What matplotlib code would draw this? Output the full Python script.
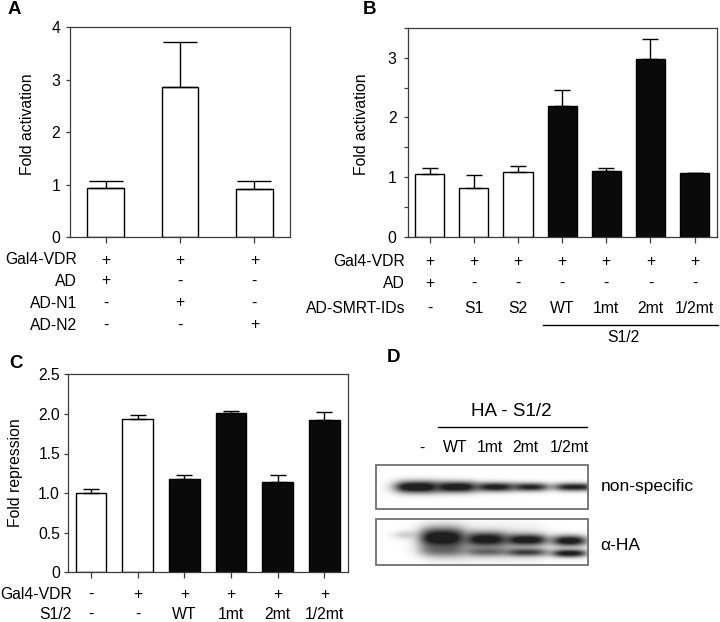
import numpy as np
import matplotlib
matplotlib.use("Agg")
import matplotlib.pyplot as plt
from matplotlib.transforms import blended_transform_factory as blend
from matplotlib.patches import Rectangle

plt.rcParams['font.family'] = ['Liberation Sans', 'DejaVu Sans']

# ---------------- data ----------------
# Panel A
a_values = [0.94, 2.85, 0.91]
a_err_up = [0.13, 0.86, 0.16]
a_row_names = ['Gal4-VDR', 'AD', 'AD-N1', 'AD-N2']
a_gal4 = ['+', '+', '+']
a_ad = ['+', '-', '-']
a_adn1 = ['-', '+', '-']
a_adn2 = ['-', '-', '+']

# Panel B
b_values = [1.045, 0.82, 1.084, 2.20, 1.106, 2.98, 1.06]
b_err_up = [0.11, 0.21, 0.11, 0.26, 0.05, 0.33, 0.01]
b_filled = [False, False, False, True, True, True, True]
b_row_names = ['Gal4-VDR', 'AD', 'AD-SMRT-IDs']
b_gal4 = ['+'] * 7
b_ad = ['+', '-', '-', '-', '-', '-', '-']
b_ids = ['-', 'S1', 'S2', 'WT', '1mt', '2mt', '1/2mt']
b_group_label = 'S1/2'

# Panel C
c_values = [1.0, 1.94, 1.183, 2.01, 1.136, 1.923]
c_err_up = [0.055, 0.04, 0.04, 0.03, 0.09, 0.105]
c_filled = [False, False, True, True, True, True]
c_row_names = ['Gal4-VDR', 'S1/2']
c_gal4 = ['-', '+', '+', '+', '+', '+']
c_s12 = ['-', '-', 'WT', '1mt', '2mt', '1/2mt']

# Panel D (western blot, relative band intensities per lane)
d_lanes = ['-', 'WT', '1mt', '2mt', '1/2mt']
d_nonspecific = [1.0, 0.97, 0.9, 0.85, 0.85]
d_ha_upper = [0.25, 1.0, 0.97, 0.97, 0.97]
d_ha_lower = [0.0, 0.4, 0.5, 0.7, 0.95]

# ---------------- layout ----------------
W, H = 720, 622
fig = plt.figure(figsize=(W / 100, H / 100), dpi=100)
FS = 11.3
SP = '#3c3c3c'


def px_axes(l, t, r, b):
    return fig.add_axes([l / W, 1 - b / H, (r - l) / W, (b - t) / H])


ov = fig.add_axes([0, 0, 1, 1], zorder=5)
ov.set_xlim(0, W)
ov.set_ylim(H, 0)
ov.axis('off')
ov.patch.set_alpha(0)


def style(ax, pad):
    for s in ax.spines.values():
        s.set_color(SP)
        s.set_linewidth(0.9)
    ax.tick_params(direction='out', length=3, width=0.9, color=SP,
                   labelsize=FS, pad=pad)
    ax.tick_params(axis='x', length=4, labelbottom=False)


def bars(ax, vals, errs, filled, width, capsize):
    x = np.arange(len(vals))
    cols = ['#0a0a0a' if f else 'white' for f in filled]
    ax.bar(x, vals, width, color=cols, edgecolor='black', linewidth=1.0, zorder=2)
    ax.errorbar(x, vals, yerr=[np.zeros(len(vals)), errs], fmt='none',
                ecolor='black', elinewidth=1.0, capsize=capsize, capthick=1.0, zorder=3)
    ax.set_xticks(x)
    return x


def rows(ax, names, rowvals, ys, right_x):
    tr = blend(ax.transData, ov.transData)
    for name, vals, y in zip(names, rowvals, ys):
        ov.text(right_x, y, name, ha='right', va='center', fontsize=FS)
        for i, v in enumerate(vals):
            ov.text(i, y, v, ha='center', va='center', fontsize=FS, transform=tr)


# ---- Panel A ----
axA = px_axes(70, 27, 290, 237.3)
style(axA, 4)
bars(axA, a_values, a_err_up, [False] * 3, 0.49, 12)
axA.set_xlim(-0.48, 2.48)
axA.set_ylim(0, 4)
axA.set_yticks([0, 1, 2, 3, 4])
rows(axA, a_row_names, [a_gal4, a_ad, a_adn1, a_adn2], [260, 281, 303, 325], 77)
ov.text(28, 124, 'Fold activation', rotation=90, ha='center', va='center', fontsize=FS)
ov.text(14, 9, 'A', ha='center', va='center', fontsize=13.5, fontweight='bold')

# ---- Panel B ----
axB = px_axes(407.5, 28, 716.7, 236.7)
style(axB, 5)
bars(axB, b_values, b_err_up, b_filled, 0.66, 5.8)
axB.set_xlim(-0.5, 6.5)
axB.set_ylim(0, 3.5)
axB.set_yticks(np.arange(0, 3.51, 0.5))
axB.set_yticklabels(['0', '', '1', '', '2', '', '3', ''])
rows(axB, b_row_names, [b_gal4, b_ad, b_ids], [261.7, 283.3, 308.3], 405)
ov.plot([542.7, 718], [325, 325], color='black', lw=1.0)
ov.text(623, 338, b_group_label, ha='center', va='center', fontsize=FS)
ov.text(361, 124, 'Fold activation', rotation=90, ha='center', va='center', fontsize=FS)
ov.text(370, 9, 'B', ha='center', va='center', fontsize=13.5, fontweight='bold')

# ---- Panel C ----
axC = px_axes(67.7, 374.3, 347.7, 572.3)
style(axC, 2.5)
bars(axC, c_values, c_err_up, c_filled, 0.66, 6)
axC.set_xlim(-0.5, 5.5)
axC.set_ylim(0, 2.5)
axC.set_yticks(np.arange(0, 2.51, 0.5))
axC.set_yticklabels(['0', '0.5', '1.0', '1.5', '2.0', '2.5'])
rows(axC, c_row_names, [c_gal4, c_s12], [594.3, 614.5], 72)
ov.text(16, 473, 'Fold repression', rotation=90, ha='center', va='center', fontsize=FS)
ov.text(16, 363, 'C', ha='center', va='center', fontsize=13.5, fontweight='bold')

# ---- Panel D ----
ov.text(393, 358, 'D', ha='center', va='center', fontsize=13.5, fontweight='bold')
ov.text(511, 411, 'HA - S1/2', ha='center', va='center', fontsize=13.5)
ov.plot([438.3, 586.7], [426.7, 426.7], color='black', lw=1.0)
lane_label_x = [421.7, 455, 490, 525.7, 569]
for lx, lab in zip(lane_label_x, d_lanes):
    ov.text(lx, 448, lab, ha='center', va='center', fontsize=FS)
ov.text(600.7, 487, 'non-specific', ha='left', va='center', fontsize=12.5)
ov.text(600.7, 545, 'α-HA', ha='left', va='center', fontsize=12.5)


def plateau(x, c, w, edge):
    return 1 / (1 + np.exp(-(x - (c - w / 2)) / edge)) / (1 + np.exp((x - (c + w / 2)) / edge))


def blot(x0, x1, y0, y1, bands, smear=None):
    xs = np.linspace(x0, x1, int((x1 - x0) * 2))
    ys = np.linspace(y0, y1, int((y1 - y0) * 2))
    X, Y = np.meshgrid(xs, ys)
    keep = np.ones_like(X)
    for (cx, w, cy, sy, inten) in bands:
        if inten <= 0:
            continue
        d = inten * plateau(X, cx, w, 4.5) * np.exp(-((Y - cy) / sy) ** 2)
        keep *= (1 - np.clip(1.25 * d, 0, 0.97))
    if smear is not None:
        for (cx, w, cy, sy, inten) in smear:
            d = inten * plateau(X, cx, w, 6.0) * np.exp(-((Y - cy) / sy) ** 2)
            keep *= (1 - d)
    img = 0.1 + 0.9 * keep
    ov.imshow(img, cmap='gray', vmin=0, vmax=1, extent=[x0, x1, y1, y0],
              aspect='auto', interpolation='bilinear', zorder=1)
    ov.add_patch(Rectangle((x0, y0), x1 - x0, y1 - y0, fill=False,
                           edgecolor='#707070', lw=1.3, zorder=2))


top_cx = [417, 456, 495, 530, 574]
top_w = [40, 38, 34, 32, 36]
top_sy = [6.0, 5.5, 4.6, 4.2, 4.0]
blot(376, 588.3, 465, 509.3,
     [(cx, w, 487.7, sy, i) for cx, w, sy, i in zip(top_cx, top_w, top_sy, d_nonspecific)])

bot_cx = [404, 442, 486, 526, 569]
bot_w = [12, 40, 36, 36, 30]
up_y = [535, 538, 539.5, 540, 541]
up_sy = [4.0, 10.0, 7.0, 5.5, 5.5]
lo_y = [550, 551, 552, 552.5, 553.5]
lo_sy = [3, 6, 4.5, 4.0, 4.0]
bands = []
for k in range(5):
    bands.append((bot_cx[k], bot_w[k], up_y[k], up_sy[k], d_ha_upper[k]))
    bands.append((bot_cx[k], bot_w[k], lo_y[k], lo_sy[k], d_ha_lower[k]))
smear = [(484, 116, 544, 16, 0.22)]
blot(376, 588.3, 519.3, 565, bands, smear)

fig.savefig('out.png', dpi=100)
